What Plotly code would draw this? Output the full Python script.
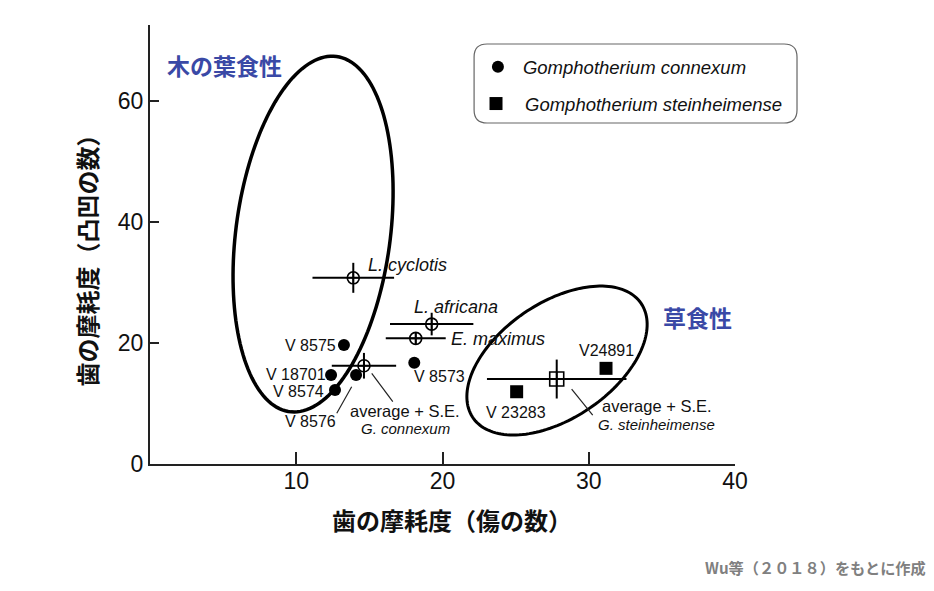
import numpy as np
import plotly.graph_objects as go

# ---------------- data ----------------
connexum_names = ["V 8575", "V 18701", "V 8574", "V 8576", "V 8573"]
connexum_x = [13.26, 12.38, 12.65, 14.09, 18.07]
connexum_y = [19.67, 14.70, 12.23, 14.70, 16.74]

stein_names = ["V 23283", "V24891"]
stein_x = [25.07, 31.18]
stein_y = [11.95, 15.82]

ref_names = ["L. cyclotis", "L. africana", "E. maximus", "average G. connexum"]
ref_x = [13.90, 19.26, 18.17, 14.63]
ref_y = [30.79, 23.14, 20.78, 16.25]
ref_xerr = [2.79, 2.85, 2.05, 2.20]
ref_yerr = [2.48, 1.87, 0.90, 2.12]

stein_avg_x = [27.81]
stein_avg_y = [14.05]
stein_avg_xerr = [4.77]
stein_avg_yerr = [3.22]

x_ticks = [10, 20, 30, 40]
y_ticks = [0, 20, 40, 60]

# ellipses: center, conjugate half-axis vectors (data units)
ell_browse_center = (11.15, 38.02)
ell_browse_u = (1.598, 29.37)
ell_browse_v = (5.234, -1.664)
ell_graze_center = (27.83, 17.11)
ell_graze_u = (5.75, 9.45)
ell_graze_v = (2.22, -7.90)

LAT = "Liberation Sans, Arial, sans-serif"
JP = "Noto Sans CJK JP, sans-serif"
BLUE = "#3a49a6"

fig = go.Figure()

fig.add_trace(go.Scatter(
    x=connexum_x, y=connexum_y, mode="markers", name="Gomphotherium connexum",
    marker=dict(symbol="circle", size=12, color="black"), legend="legend"))
fig.add_trace(go.Scatter(
    x=stein_x, y=stein_y, mode="markers", name="Gomphotherium steinheimense",
    marker=dict(symbol="square", size=13, color="black"), legend="legend2"))
fig.add_trace(go.Scatter(
    x=ref_x, y=ref_y, mode="markers", showlegend=False,
    marker=dict(symbol="circle-cross-open", size=12, color="black", line=dict(width=1.6, color="black")),
    error_x=dict(type="data", array=ref_xerr, color="black", thickness=2, width=0),
    error_y=dict(type="data", array=ref_yerr, color="black", thickness=2, width=0)))
fig.add_trace(go.Scatter(
    x=stein_avg_x, y=stein_avg_y, mode="markers", showlegend=False,
    marker=dict(symbol="square-cross-open", size=14, color="black", line=dict(width=1.6, color="black")),
    error_x=dict(type="data", array=stein_avg_xerr, color="black", thickness=2, width=0),
    error_y=dict(type="data", array=stein_avg_yerr, color="black", thickness=2, width=0)))


def ellipse_path(c, u, v, n=160):
    t = np.linspace(0, 2 * np.pi, n)
    xs = c[0] + u[0] * np.cos(t) + v[0] * np.sin(t)
    ys = c[1] + u[1] * np.cos(t) + v[1] * np.sin(t)
    p = f"M {xs[0]:.4f},{ys[0]:.4f} " + " ".join(f"L {a:.4f},{b:.4f}" for a, b in zip(xs[1:], ys[1:])) + " Z"
    return p


shapes = [
    dict(type="path", xref="x", yref="y", path=ellipse_path(ell_browse_center, ell_browse_u, ell_browse_v),
         line=dict(color="black", width=3.5)),
    dict(type="path", xref="x", yref="y", path=ellipse_path(ell_graze_center, ell_graze_u, ell_graze_v),
         line=dict(color="black", width=3)),
    # leader lines
    dict(type="line", xref="x", yref="y", x0=15.16, y0=14.99, x1=16.6, y1=10.3, line=dict(color="#222", width=1.2)),
    dict(type="line", xref="x", yref="y", x0=13.79, y0=12.78, x1=12.77, y1=8.38, line=dict(color="#222", width=1.2)),
    dict(type="line", xref="x", yref="y", x0=28.83, y0=12.4, x1=30.27, y1=8.1, line=dict(color="#222", width=1.2)),
]

# rounded legend box (paper coords)
bx0, bx1, by0, by1 = 0.554, 1.106, 0.7768, 0.9567
rx, ry = 13 / 585, 13 / 439
box = (f"M {bx0+rx},{by1} L {bx1-rx},{by1} Q {bx1},{by1} {bx1},{by1-ry} "
       f"L {bx1},{by0+ry} Q {bx1},{by0} {bx1-rx},{by0} L {bx0+rx},{by0} "
       f"Q {bx0},{by0} {bx0},{by0+ry} L {bx0},{by1-ry} Q {bx0},{by1} {bx0+rx},{by1} Z")
shapes.append(dict(type="path", xref="paper", yref="paper", path=box,
                   line=dict(color="#666", width=1.2), fillcolor="rgba(0,0,0,0)"))

ann = []


def lab(text, x, y, xanchor="center", size=16, italic=False):
    ann.append(dict(text=text, x=x, y=y, xref="x", yref="y", xanchor=xanchor, yanchor="middle",
                    showarrow=False, borderpad=0,
                    font=dict(family=LAT, size=size, color="#111",
                              style="italic" if italic else "normal")))


lab("L. cyclotis", 14.84, 32.9, "left", 18, True)
lab("L. africana", 17.98, 25.95, "left", 18, True)
lab("E. maximus", 20.51, 20.66, "left", 18, True)
lab("V 8575", 12.79, 19.67, "right")
lab("V 18701", 12.08, 14.85, "right")
lab("V 8574", 11.97, 11.95, "right")
lab("V 8576", 10.94, 6.99)
lab("V 8573", 17.98, 14.43, "left")
lab("average + S.E.", 17.44, 8.75, size=16.5)
lab("G. connexum", 17.5, 5.85, size=15, italic=True)
lab("V24891", 31.18, 18.84)
lab("V 23283", 25.03, 8.48)
lab("average + S.E.", 34.65, 9.6, size=16.5)
lab("G. steinheimense", 34.6, 6.5, size=15, italic=True)


def pann(text, x, y, size, color, xanchor="center", angle=0, bold=True):
    ann.append(dict(text=f"<b>{text}</b>" if bold else text, x=x, y=y, xref="paper", yref="paper",
                    xanchor=xanchor, yanchor="middle", showarrow=False, textangle=angle,
                    font=dict(family=JP, size=size, color=color)))


pann("木の葉食性", 0.1274, 0.9089, 23, BLUE)
pann("草食性", 0.936, 0.3355, 23, BLUE)
pann("歯の摩耗度（傷の数）", 0.516, -0.127, 24, "#111")
pann("歯の摩耗度（凸凹の数）", -0.1077, 0.477, 24, "#111", angle=-90)
pann("Wu等（２０１８）をもとに作成", 1.33, -0.2346, 15.2, "#808080", xanchor="right")

axis_common = dict(showgrid=False, zeroline=False, showline=True, linecolor="#222", linewidth=2,
                   ticks="inside", tickcolor="#222", tickwidth=1.5,
                   tickfont=dict(family=LAT, size=23, color="#111"), fixedrange=True)

# the page body has an 8px margin, so the figure is shifted by 8px; compensate
fig.update_layout(
    width=926, height=583, autosize=False,
    margin=dict(l=142, r=199, t=17, b=127),
    paper_bgcolor="white", plot_bgcolor="white",
    xaxis=dict(range=[0, 40], tickvals=x_ticks, ticklen=12, ticklabelstandoff=-5, **axis_common),
    yaxis=dict(range=[0, 72.6], tickvals=y_ticks, ticklen=9, **axis_common),
    shapes=shapes, annotations=ann,
    legend=dict(x=0.552, y=0.904, xanchor="left", yanchor="middle", bgcolor="rgba(0,0,0,0)",
                borderwidth=0, itemwidth=40,
                font=dict(family=LAT, size=18.5, style="italic", color="#111")),
    legend2=dict(x=0.5419, y=0.820, xanchor="left", yanchor="middle", bgcolor="rgba(0,0,0,0)",
                 borderwidth=0, itemwidth=48,
                 font=dict(family=LAT, size=18.5, style="italic", color="#111")),
)

fig.write_html("out.html")
